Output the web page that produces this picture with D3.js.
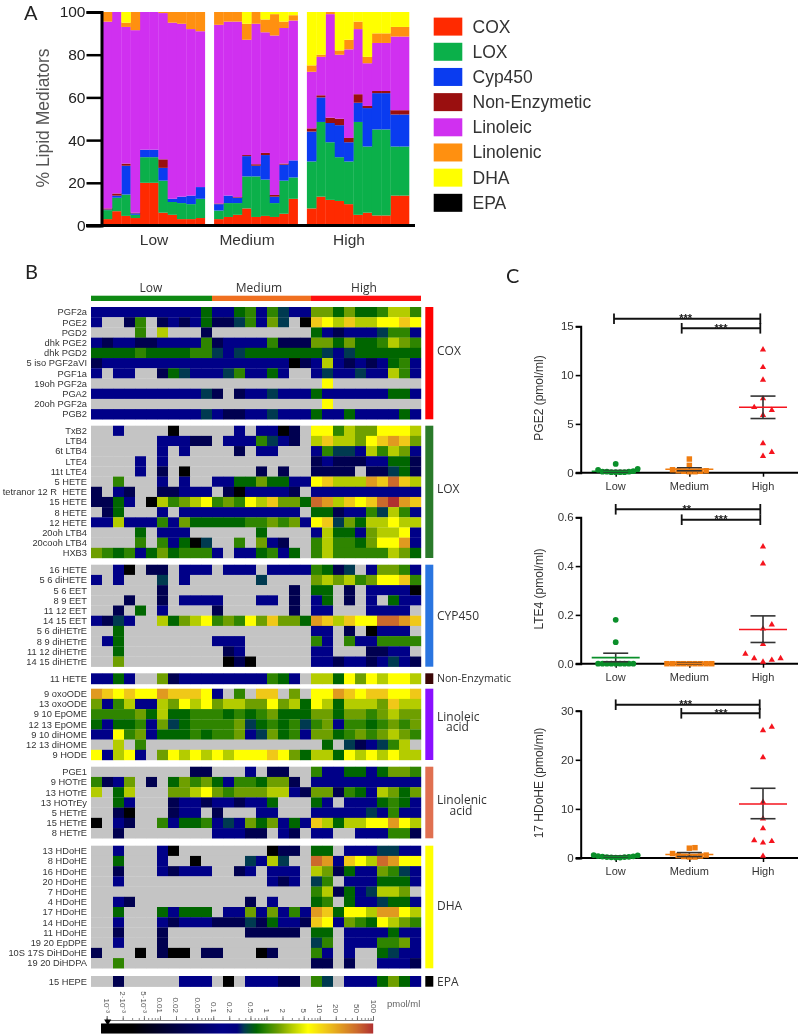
<!DOCTYPE html>
<html>
<head>
<meta charset="utf-8">
<script src="https://cdnjs.cloudflare.com/ajax/libs/d3/7.8.5/d3.min.js"></script>
<style>
html,body{margin:0;padding:0;background:#fff}
svg{display:block;filter:blur(0.45px)}
text{font-family:"Liberation Sans",Arial,sans-serif}
.soft{font-family:"Open Sans",sans-serif}
.letter{font-family:"Lato",sans-serif}
</style>
</head>
<body>
<svg id="chart" width="800" height="1036"></svg>
<script>
// ---------- Panel A data ----------
const stackKeys = ["COX","LOX","Cyp450","Non-Enzymetic","Linoleic","Linolenic","DHA","EPA"];
const stackColors = ["#ff2a00","#0bb04a","#0a3cf0","#9a0f0f","#d030f0","#ff9010","#ffff00","#000000"];
const groupNames = ["Low","Medium","High"];
const barsPerGroup = [11,9,11];
const coxValues = [3,6.7,4.5,3.5,20,20,6,5,3,3,3.5, 3,4,5,8,4,4.5,4,5.5,12.5, 8,13.5,12,11.5,10,5,6,4.7,4.7,14,14];
const loxValues = [4.2,6.3,10,1.5,12,12,15,6,7.5,7,9, 4,6.5,5.5,15,19,17,6.5,15.5,10, 22,35,27,20.5,20,43.5,31,40.3,40.3,23,23];
const cypValues = [.3,1,13.5,.7,3.5,3.5,6,1.5,3,4,5.5, 3,3.5,2.5,9.5,5,11.5,3,7.5,8, 14,11.5,9,15,9,9,18,17,17,15,15];
const nonEnzValues = [.5,1,1,.3,0,0,4,0,0,0,0, .3,0,.3,.5,.7,1,.8,.5,0, 1.5,1,2.5,3,2,4,1,1,1,2,2];
const linoleicValues = [87.5,85,64,85.5,64.5,64.5,68.5,82.5,81,78,73, 83.7,81.5,82.2,54,65.8,56.5,74.7,63.5,65.5, 26.5,18,48.5,30,41.5,30.5,20,22.5,22.5,34.5,34.5];
const linolenicValues = [4.5,0,2,8.5,0,0,.5,5,5.5,8,9, 6,4.5,4.5,7.5,5.5,6,10,3,2.5, 3,1,1,2,4.5,3.5,3,4.5,4.5,4.5,4.5];
const dhaValues = [0,0,5,0,0,0,0,0,0,0,0, 0,0,0,5.5,0,3.5,1,4.5,1.5, 25,20,0,18,13,4.5,21,10,10,7,7];
const epaValues = new Array(31).fill(0);
const yTicksA = [0,20,40,60,80,100];

// ---------- Panel B data ----------
// each character is a colour-bar class (see levelValues, in pmol/ml); "." is not detected
const levelKeys = "0123456789abc";
const levelValues = [0.0015,0.03,0.15,0.38,0.65,1,1.7,3,6,13,25,50,100];
const coxNames = ["PGF2a","PGE2","PGD2","dhk PGE2","dhk PGD2","5 iso PGF2aVI","PGF1a","19oh PGF2a","PGA2","20oh PGF2a","PGB2"];
const coxRows = [
"22222222224|224525322|6646445775",
"2..15.12124|1135263.0|9879778898",
"....5.7...1|.........|4212223552",
"21221122225|122225111|6646445765",
"44445444455|323444444|4323444444",
"12222222222|222222201|2721212452",
"2.22..14322|2352242..|2322322752",
"...........|.........|.8........",
"22222222223|1.1223222|4222222442",
"...........|.........|.8........",
"22222222223|211223222|4224222242"];
const loxNames = ["TxB2","LTB4","6t LTB4","LTE4","11t LTE4","5 HETE","tetranor 12 R  HETE","15 HETE","8 HETE","12 HETE","20oh LTB4","20cooh LTB4","HXB3"];
const loxRows = [
"..2....0...|..2.2201.|8857668887",
"......22211|.2225321.|7977689a96",
"......2.2..|..1.22...|2533275762",
"....2.2....|.........|1211122441",
"....2.1.0..|....1.1..|1111.11341",
"..5...2.2..|224464422|89777a9b97",
"1.21..11222|.1022221.|2222222222",
"1142.075678|565879664|ba7989bca9",
".14...2.222|22222222.|4412253752",
"22722252644|444556562|8936477877",
"....4.222..|....4....|2744267782",
"....5.52403|..5.621..|57554688a2",
"65452464555|2.224524.|5755555764"];
const cypNames = ["16 HETE","5 6 diHETE","5 6 EET","8 9 EET","11 12 EET","14 15 EET","5 6 diHETrE","8 9 diHETrE","11 12 diHETrE","14 15 diHETrE"];
const cypRows = [
"..20.11.222|.222.2222|5413.26652",
"2.2...3.2..|....3....|6767568895",
"......1....|.......1.|44.1.22220",
"...1..1.222|2...22.1.|24.1.2.422",
"..1.4.2....|1......1.|22...2222.",
"2132..74678|565869664|a97988bba9",
"..4........|.........|22.1.0222.",
".24........|222......|52.5225555",
"..4........|.12......|22...1122.",
"..6........|.010.....|2212212321"];
const nonEnzNames = ["11 HETE"];
const nonEnzRows = ["2242..61222|22222542.|7748687887"];
const linoleicNames = ["9 oxoODE","13 oxoODE","9 10 EpOME","12 13 EpOME","9 10 diHOME","12 13 diHOME","9 HODE"];
const linoleicRows = [
"a98988a9998|2.5.99.6.|88a9899889",
"62572276878|677668674|8747776977",
"55556474455|545456444|6646656766",
"42445263455|556345453|5625545656",
"22856244454|556236452|6645656765",
"..7.5......|.........|.4.312357.",
"82782.68787|878889864|7748787877"];
const linolenicNames = ["PGE1","9 HOTrE","13 HOTrE","13 HOTrEy","5 HETrE","15 HETrE","8 HETrE"];
const linolenicRows = [
".........11|...2.11..|5224424665",
"5126.1.4656|42554661.|2222222222",
"7.47...6678|656667721|6615427646",
"..42...1221|221224...|42.2224542",
"..10...122.|1...22...|2222232522",
"0.21..52445|232646242|9747788a87",
"..1........|22211.21.|22..222551"];
const dhaNames = ["13 HDoHE","8 HDoHE","16 HDoHE","20 HDoHE","7 HDoHE","4 HDoHE","17 HDoHE","14 HDoHE","11 HDoHE","19 20 EpDPE","10S 17S DiHDoHE","19 20 DiHDPA"];
const dhaRows = [
"..2...20...|.....011.|44.2223322",
"..4...2..0.|...3273..|ba2987ba88",
"..1...21222|..12.222.|7614226532",
"..2........|.....212.|35.2224442",
"...........|.........|571423776.",
"..21.......|...1.2...|45.4223442",
"..4...42444|.22626252|a94887aa87",
"..2...21222|111314221|9826548765",
"..1...1....|...11111.|44.2222422",
"..2...1....|.........|35.2225562",
"1...0.100.1|1...01...|52.2..4322",
"..5........|.........|11.1..2221"];
const epaNames = ["15 HEPE"];
const epaRows = ["..1.....222|.0.22211.|53.2224642"];
const colorbarTicks = [0.001,0.002,0.005,0.01,0.02,0.05,0.1,0.2,0.5,1,2,5,10,20,50,100];
const colorbarLabels = ["10⁻³","2·10⁻³","5·10⁻³","0.01","0.02","0.05","0.1","0.2","0.5","1","2","5","10","20","50","100"];
const colorStops = [0.003,0.15,0.28,0.38,0.65,1,1.7,3,6,13,25,50,100];
const colorStopHex = ["#000000","#000088","#00007e","#003a50","#006600","#2f8500","#6e9f00","#b4cc00","#ffff00","#f0c818","#e09a20","#cc6a2c","#b03030"];

// ---------- Panel C data ----------
const pge2Low = [0.05,0.05,0.05,0.05,0.1,0.1,0.1,0.15,0.3,0.4,0.9];
const pge2Medium = [0.1,0.1,0.15,0.15,0.2,0.2,0.3,0.75,1.4];
const pge2High = [1.7,2.1,3.0,5.9,6.4,6.7,7.6,9.5,10.8,12.6];
const pge2Mean = [0.15,0.35,6.7];
const pge2Lo = [0.08,0.2,5.55];
const pge2Hi = [0.22,0.5,7.85];
const lte4Low = [0,0,0,0,0,0,0,0,0,0.088,0.18];
const lte4Medium = [0,0,0,0,0,0,0,0,0];
const lte4High = [0.007,0.015,0.022,0.022,0.04,0.08,0.143,0.16,0.41,0.48];
const lte4Mean = [0.025,0.002,0.14];
const lte4Lo = [0.008,0,0.087];
const lte4Hi = [0.043,0.004,0.196];
const hdoheLow = [0.1,0.1,0.15,0.2,0.2,0.25,0.3,0.35,0.4,0.55,0.6];
const hdoheMedium = [0.2,0.2,0.3,0.4,0.5,0.6,0.9,2.0,2.1];
const hdoheHigh = [0.4,3.1,3.4,3.6,6,8,11.4,20.5,26,26.7];
const hdoheMean = [0.3,0.7,11];
const hdoheLo = [0.2,0.3,8];
const hdoheHi = [0.4,1.1,14.2];

// ---------- layout ----------
const svg = d3.select("#chart");
const addText = (g,x,y,t,size,fill,anchor,cls) => g.append("text").attr("x",x).attr("y",y).text(t)
  .attr("font-size",size).attr("fill",fill).attr("text-anchor",anchor||"start").attr("class",cls||null);

addText(svg,24,20,"A",20,"#222","start","letter");
addText(svg,25,279,"B",20,"#222","start","letter");
addText(svg,506,283,"C",20,"#222","start","letter");

// ===== Panel A =====
(function(){
  const g = svg.append("g");
  const slots = [];
  barsPerGroup.forEach((n,gi)=>{
    d3.range(n).forEach(i=>slots.push(gi+"-"+i));
    if(gi<2) slots.push("gap"+gi);
  });
  const barKeys = slots.filter(s=>!s.startsWith("gap"));
  const x = d3.scaleBand().domain(slots).range([102.7,409]).padding(0);
  const y = d3.scaleLinear().domain([0,100]).range([225.5,12]);
  const columns = [coxValues,loxValues,cypValues,nonEnzValues,linoleicValues,linolenicValues,dhaValues,epaValues];
  const table = barKeys.map((k,i)=>{
    const o = {slot:k};
    stackKeys.forEach((s,j)=>o[s]=columns[j][i]);
    return o;
  });
  const series = d3.stack().keys(stackKeys)(table);
  const color = d3.scaleOrdinal().domain(stackKeys).range(stackColors);
  g.selectAll("g.s").data(series).join("g").attr("fill",d=>color(d.key))
    .selectAll("rect").data(d=>d).join("rect")
    .attr("x",d=>x(d.data.slot)).attr("width",x.bandwidth()+0.3)
    .attr("y",d=>y(d[1])).attr("height",d=>Math.max(0,y(d[0])-y(d[1])));
  const axis = g.append("g").attr("transform","translate(101.5,0)")
    .call(d3.axisLeft(y).tickValues(yTicksA).tickSize(15).tickPadding(1));
  axis.select(".domain").attr("stroke","#000").attr("stroke-width",3);
  axis.selectAll(".tick line").attr("stroke","#000").attr("stroke-width",2.5);
  axis.selectAll(".tick text").attr("font-size",15.5).attr("fill","#222").attr("font-family","Liberation Sans");
  g.append("line").attr("x1",86).attr("x2",415).attr("y1",y(0)).attr("y2",y(0)).attr("stroke","#000").attr("stroke-width",3);
  const labelX = d3.scaleOrdinal().domain(groupNames).range([154,247,349]);
  groupNames.forEach(n=>addText(g,labelX(n),245,n,15.5,"#333","middle"));
  addText(g,0,0,"% Lipid Mediators",17.5,"#555","middle").attr("transform","translate(49,118) rotate(-90)");
  // legend
  const ly = d3.scaleBand().domain(stackKeys).range([17.6,219]);
  stackKeys.forEach((k,i)=>{
    g.append("rect").attr("x",433.7).attr("y",ly(k)).attr("width",28.6).attr("height",18).attr("fill",stackColors[i]);
    addText(g,472.5,ly(k)+15,k,17.5,"#333");
  });
})();

// ===== Panel B =====
(function(){
  const g = svg.append("g");
  const blocks = [
    {names:coxNames,rows:coxRows,top:307,bottom:419.3,color:"#ff0000",label:["COX"],ly:[355]},
    {names:loxNames,rows:loxRows,top:425.7,bottom:558,color:"#2a7a2a",label:["LOX"],ly:[493]},
    {names:cypNames,rows:cypRows,top:564.7,bottom:666.7,color:"#2a75e0",label:["CYP450"],ly:[620]},
    {names:nonEnzNames,rows:nonEnzRows,top:673.3,bottom:684,color:"#3a0505",label:["Non-Enzymatic"],ly:[682],small:true},
    {names:linoleicNames,rows:linoleicRows,top:688.7,bottom:760,color:"#8a10ff",label:["Linoleic","acid"],ly:[721],mid:457.5,lead:10},
    {names:linolenicNames,rows:linolenicRows,top:766.7,bottom:838.3,color:"#e07050",label:["Linolenic","acid"],ly:[804],mid:461,lead:11},
    {names:dhaNames,rows:dhaRows,top:845.7,bottom:968.3,color:"#ffff00",label:["DHA"],ly:[910]},
    {names:epaNames,rows:epaRows,top:976,bottom:986.7,color:"#000000",label:["EPA"],ly:[986]}
  ];
  const x = d3.scaleBand().domain(d3.range(30)).range([91,421]).padding(0);
  const heat = d3.scaleLog().domain(colorStops).range(colorStopHex).clamp(true);
  const levelOf = c => levelValues[levelKeys.indexOf(c)];

  blocks.forEach(b=>{
    const y = d3.scaleBand().domain(b.names).range([b.top,b.bottom]).padding(0);
    const gb = g.append("g");
    b.names.forEach((name,i)=>{
      const cells = b.rows[i].replace(/\|/g,"").split("");
      if(cells.length!==30) throw new Error("bad row "+name+" "+cells.length);
      gb.selectAll(null).data(cells).join("rect")
        .attr("x",(d,j)=>x(j)).attr("y",y(name)).attr("width",x.bandwidth()+0.2).attr("height",y.bandwidth()+0.2)
        .attr("fill",d=>d==="."?"#c4c4c4":heat(levelOf(d)));
      addText(gb,87,y(name)+y.bandwidth()/2+3.3,name,9.3,"#333","end").style("white-space","pre");
    });
    gb.append("rect").attr("x",425.3).attr("y",b.top).attr("width",8).attr("height",b.bottom-b.top).attr("fill",b.color);
    const t = addText(gb,437,b.ly[0],null,b.small?10.6:12,"#333","start","soft");
    if(b.label.length===1){
      t.text(b.label[0]);
    } else {
      t.append("tspan").attr("x",437).attr("y",b.ly[0]).text(b.label[0]);
      t.append("tspan").attr("x",b.mid).attr("y",b.ly[0]+b.lead).attr("text-anchor","middle").text(b.label[1]);
    }
  });

  // group header
  const spans = [[91,212,"#0f8a14","Low",151],[212,311,"#f07020","Medium",259],[311,421,"#ff1010","High",364]];
  spans.forEach(s=>{
    g.append("rect").attr("x",s[0]).attr("y",295.7).attr("width",s[1]-s[0]).attr("height",5.3).attr("fill",s[2]);
    addText(g,s[4],292,s[3],12,"#333","middle","soft");
  });

  // colour bar
  const cx = d3.scaleLog().domain([0.001,100]).range([106.7,373]);
  g.selectAll(null).data(d3.range(101,373,1)).join("rect")
    .attr("x",d=>d).attr("y",1023.5).attr("width",1.2).attr("height",10)
    .attr("fill",d=>heat(cx.invert(Math.max(d,106.8)+0.5)));
  const minor = [];
  [0.001,0.01,0.1,1,10].forEach(dec=>d3.range(1,10).forEach(m=>minor.push(dec*m)));
  const minorAxis = g.append("g").attr("transform","translate(0,1020)")
    .call(d3.axisTop(cx).tickValues(minor).tickSize(2).tickFormat(""));
  const ax = g.append("g").attr("transform","translate(0,1020)")
    .call(d3.axisTop(cx).tickValues(colorbarTicks).tickSize(4).tickFormat((d,i)=>colorbarLabels[i]));
  [minorAxis,ax].forEach(a=>{
    a.select(".domain").attr("stroke","#777").attr("stroke-width",0.8);
    a.selectAll(".tick line").attr("stroke","#666").attr("stroke-width",0.8);
  });
  ax.selectAll(".tick text").attr("font-size",8).attr("fill","#555")
    .attr("text-anchor","end").attr("transform","rotate(90)").attr("x",-7).attr("y",3).attr("dy",0)
    .attr("font-family","Liberation Sans");
  g.append("path").attr("d",d3.symbol(d3.symbolTriangle,22)()).attr("fill","#000")
    .attr("transform",`translate(${cx(0.001)+1},1021.5) rotate(180)`);
  addText(g,387,1007,"pmol/ml",9.5,"#666");
})();

// ===== Panel C =====
(function(){
  const x = d3.scalePoint().domain(groupNames).range([615.7,763]);
  const markerColor = {Low:"#0a8f2a",Medium:"#f07d10",High:"#f5141e"};
  const step = {Low:4.4,Medium:5.6,High:8.8};
  const gapPx = {Low:5,Medium:5,High:8.4};
  const symbolOf = {Low:d3.symbolCircle,Medium:d3.symbolSquare,High:d3.symbolTriangle};
  const symbolSize = {Low:26,Medium:30,High:17};

  function dodge(vals,y,name){
    const placed = [];
    return vals.slice().sort((a,b)=>a-b).map(v=>{
      const py = y(v);
      let k = 0, s = 0;
      while(placed.some(p=>p.slot===s && Math.abs(p.py-py)<gapPx[name])){
        k++; s = (k%2 ? 1 : -1)*Math.ceil(k/2);
      }
      placed.push({slot:s,py});
      return {v,slot:s};
    });
  }

  function panel(cfg){
    const g = svg.append("g");
    const y = d3.scaleLinear().domain(cfg.domain).range([cfg.y0,cfg.yTop]);
    const ax = g.append("g").attr("transform","translate(580.7,0)")
      .call(d3.axisLeft(y).tickValues(cfg.ticks).tickSize(5).tickPadding(2).tickFormat(cfg.fmt));
    ax.select(".domain").attr("stroke","#000").attr("stroke-width",2);
    ax.selectAll(".tick line").attr("stroke","#000").attr("stroke-width",1.6);
    ax.selectAll(".tick text").attr("font-size",11.5).attr("fill","#333").attr("font-family","Liberation Sans");
    const xa = g.append("g").attr("transform",`translate(0,${cfg.y0})`).call(d3.axisBottom(x).tickSize(4).tickFormat(""));
    xa.select(".domain").attr("d",`M575.7,0H798`).attr("stroke","#000").attr("stroke-width",2);
    xa.selectAll(".tick line").attr("stroke","#000").attr("stroke-width",1.5);
    groupNames.forEach(n=>addText(g,x(n),cfg.y0+17,n,11,"#333","middle"));
    addText(g,0,0,cfg.title,12,"#333","middle").attr("transform",`translate(543,${cfg.titleY}) rotate(-90)`);

    groupNames.forEach((n,i)=>{
      const cx = x(n);
      const col = markerColor[n];
      dodge(cfg.values[i],y,n).forEach(p=>{
        g.append("path").attr("d",d3.symbol(symbolOf[n],symbolSize[n])())
          .attr("fill",col).attr("transform",`translate(${cx+p.slot*step[n]},${y(p.v)})`);
      });
      const eb = g.append("g").attr("stroke","#333").attr("stroke-width",1.6);
      eb.append("line").attr("x1",cx).attr("x2",cx).attr("y1",y(cfg.lo[i])).attr("y2",y(cfg.hi[i]));
      [cfg.lo[i],cfg.hi[i]].forEach(v=>eb.append("line").attr("x1",cx-12.5).attr("x2",cx+12.5).attr("y1",y(v)).attr("y2",y(v)));
      g.append("line").attr("x1",cx-24).attr("x2",cx+24).attr("y1",y(cfg.mean[i])).attr("y2",y(cfg.mean[i]))
        .attr("stroke",col).attr("stroke-width",1.6);
    });

    cfg.brackets.forEach(b=>{
      const bg = g.append("g").attr("stroke","#111");
      bg.append("line").attr("x1",b.x1).attr("x2",b.x2).attr("y1",b.y).attr("y2",b.y).attr("stroke-width",2);
      [b.x1,b.x2].forEach(px=>bg.append("line").attr("x1",px).attr("x2",px).attr("y1",b.y-5.3).attr("y2",b.y+5.3).attr("stroke-width",1.8));
      addText(g,b.tx,b.y+3.5,b.label,11,"#222","middle").attr("font-weight","bold");
    });
  }

  panel({title:"PGE2 (pmol/ml)",titleY:398,domain:[0,15],ticks:[0,5,10,15],fmt:d3.format("d"),y0:472.7,yTop:326.3,
    values:[pge2Low,pge2Medium,pge2High],mean:pge2Mean,lo:pge2Lo,hi:pge2Hi,
    brackets:[{x1:614,x2:760.3,y:318.7,tx:685.7,label:"***"},{x1:681.7,x2:760.3,y:328.3,tx:721,label:"***"}]});
  panel({title:"LTE4 (pmol/ml)",titleY:589,domain:[0,0.6],ticks:[0,0.2,0.4,0.6],fmt:d3.format(".1f"),y0:663.7,yTop:517.3,
    values:[lte4Low,lte4Medium,lte4High],mean:lte4Mean,lo:lte4Lo,hi:lte4Hi,
    brackets:[{x1:615.7,x2:760.3,y:509.3,tx:686.7,label:"**"},{x1:681.7,x2:760.3,y:519.7,tx:721,label:"***"}]});
  panel({title:"17 HDoHE (pmol/ml)",titleY:783,domain:[0,30],ticks:[0,10,20,30],fmt:d3.format("d"),y0:858,yTop:710.7,
    values:[hdoheLow,hdoheMedium,hdoheHigh],mean:hdoheMean,lo:hdoheLo,hi:hdoheHi,
    brackets:[{x1:615.7,x2:759.7,y:704.7,tx:685.7,label:"***"},{x1:681.3,x2:759.7,y:713.3,tx:721,label:"***"}]});
})();
</script>
</body>
</html>
